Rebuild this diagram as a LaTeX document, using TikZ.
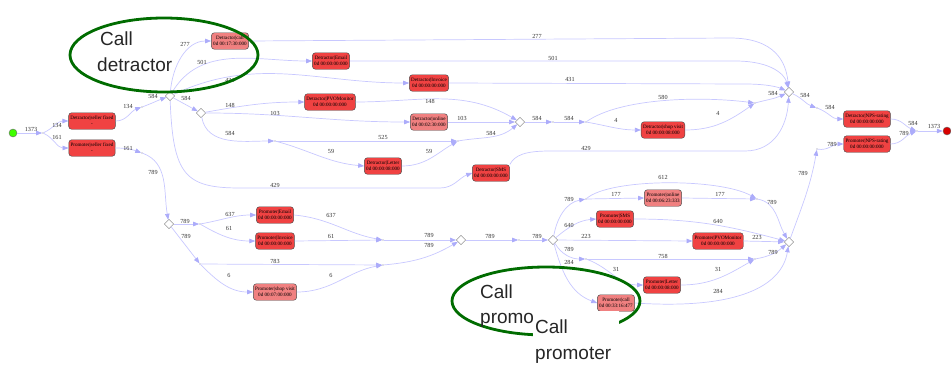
\documentclass[tikz,border=0pt]{standalone}
\usepackage{fontspec}
\setmainfont{Liberation Serif}
\setsansfont{Liberation Sans}
\usetikzlibrary{arrows.meta,shapes.geometric}
\definecolor{flowc}{RGB}{200,200,255}
\definecolor{tipc}{RGB}{172,172,250}
\definecolor{actred}{RGB}{240,66,66}
\definecolor{actlight}{RGB}{240,128,128}
\definecolor{ringgreen}{RGB}{0,108,0}
\begin{document}
\begin{tikzpicture}[x=1pt,y=-1pt,
  act/.style={draw=black!70, fill=actred, rounded corners=3pt, align=center,
    font=\fontsize{5.1}{5.6}\selectfont, inner xsep=1.8pt, inner ysep=1pt,
    minimum height=16.5pt, line width=0.45pt},
  actl/.style={act, fill=actlight},
  gate/.style={diamond, draw=black!55, fill=white, inner sep=0pt, minimum size=9.5pt, line width=0.45pt},
  pt/.style={circle, fill=flowc!60!black, inner sep=0pt, minimum size=1.2pt},
  flow/.style={draw=flowc, line width=0.7pt, -{Triangle[length=6pt,width=4.5pt,color=tipc]}},
  lbl/.style={font=\fontsize{6.2}{6.2}\selectfont, text=black!80, inner sep=0pt},
  big/.style={font=\sffamily\fontsize{19}{19}\selectfont, text=black!85, anchor=base west, inner sep=0pt},
  ring/.style={draw=ringgreen, line width=2.8pt}]
\useasboundingbox (0,0) rectangle (951,367);

% start and end events
\node[circle, draw=black!60, fill=green!75!yellow, minimum size=8pt, inner sep=0pt] (start) at (13,133) {};
\node[circle, draw=black!60, fill=red!85!black, minimum size=8pt, inner sep=0pt] (end) at (947,131) {};

% detractor branch
\node[act] (dsf) at (92,121) {Detractor|seller fixed\\-};
\node[act] (psf) at (92,148) {Promoter|seller fixed\\-};
\node[actl] (dcall) at (230,41) {Detractor|call\\0d 00:17:30:000};
\node[act] (demail) at (331,61) {Detractor|Email\\0d 00:00:00:000};
\node[act] (dinv) at (429,83) {Detractor|Invoice\\0d 00:00:00:000};
\node[act] (dpvo) at (330,102) {Detractor|PVOMonitor\\0d 00:00:00:000};
\node[actl] (donl) at (429,122) {Detractor|online\\0d 00:02:30:000};
\node[act] (dlet) at (383,166) {Detractor|Letter\\0d 00:00:08:000};
\node[act] (dsms) at (491,173) {Detractor|SMS\\0d 00:00:00:000};
\node[act] (dshop) at (663,130) {Detractor|shop visit\\0d 00:00:08:000};
\node[act] (dnps) at (867,119) {Detractor|NPS-rating\\0d 00:00:00:000};
\node[act] (pnps) at (867,144) {Promoter|NPS-rating\\0d 00:00:00:000};

% promoter branch
\node[act] (pemail) at (275,215) {Promoter|Email\\0d 00:00:00:000};
\node[act] (pinv) at (275,241) {Promoter|Invoice\\0d 00:00:00:000};
\node[actl] (pshop) at (275,292) {Promoter|shop visit\\0d 00:07:00:000};
\node[actl] (ponl) at (663,198) {Promoter|online\\0d 00:06:23:333};
\node[act] (psms) at (615,219) {Promoter|SMS\\0d 00:00:00:000};
\node[act] (ppvo) at (718,241) {Promoter|PVOMonitor\\0d 00:00:00:000};
\node[act] (plet) at (662,285) {Promoter|Letter\\0d 00:00:08:000};
\node[actl] (pcall) at (616,303) {Promoter|call\\0d 00:33:16:477};

% gateways
\node[gate] (g1) at (170,96) {};
\node[gate] (g2) at (169,224) {};
\node[gate] (g3) at (201,113) {};
\node[gate] (g4) at (520,122) {};
\node[gate] (g5) at (789,92) {};
\node[gate] (g6) at (461,240) {};
\node[gate] (g7) at (553,240) {};
\node[gate] (g8) at (789,242) {};

% join points
\node[pt] (p0) at (43,133) {};
\node[pt] (p1) at (142,107) {};
\node[pt] (p2) at (142,153) {};
\node[pt] (p3) at (275,141) {};
\node[pt] (p4) at (458,141) {};
\node[pt] (p5) at (553,122) {};
\node[pt] (p6) at (586,122) {};
\node[pt] (p7) at (755,103) {};
\node[pt] (p8) at (817,108) {};
\node[pt] (p9) at (817,149) {};
\node[pt] (p10) at (917,131) {};
\node[pt] (p11) at (200,224) {};
\node[pt] (p12) at (200,264) {};
\node[pt] (p13) at (383,240) {};
\node[pt] (p14) at (383,265) {};
\node[pt] (p15) at (519,240) {};
\node[pt] (p16) at (586,199) {};
\node[pt] (p17) at (757,199) {};
\node[pt] (p18) at (586,259) {};
\node[pt] (p19) at (755,259) {};

% flows, upper part
\draw[flow] (start) -- (p0);
\draw[flow] (p0) to[out=25,in=180] (dsf.west);
\draw[flow] (p0) to[out=-25,in=180] (psf.west);
\draw[flow] (dsf.east) to[out=0,in=200] (p1);
\draw[flow] (p1) to[out=20,in=200] (g1);
\draw[flow] (g1) to[out=85,in=180] (dcall.west);
\draw[flow] (g1) to[out=60,in=180] (demail.west);
\draw[flow] (g1) to[out=25,in=180] (dinv.west);
\draw[flow] (g1) -- (g3);
\draw[flow] (g1) .. controls (173,175) and (185,188) .. (240,188) -- (440,188) to[out=0,in=200] (dsms.west);
\draw[flow] (g3) to[out=10,in=180] (dpvo.west);
\draw[flow] (g3) to[out=0,in=180] (donl.west);
\draw[flow] (g3) to[out=-80,in=180] (p3);
\draw[flow] (p3) -- (p4);
\draw[flow] (p3) to[out=-15,in=175] (dlet.west);
\draw[flow] (dlet.east) to[out=0,in=210] (p4);
\draw[flow] (p4) to[out=10,in=220] (g4);
\draw[flow] (dpvo.east) to[out=0,in=150] (g4);
\draw[flow] (donl.east) -- (g4);
\draw[flow] (g4) -- (p5);
\draw[flow] (p5) -- (p6);
\draw[flow] (p6) .. controls (620,98) and (700,96) .. (p7);
\draw[flow] (p6) to[out=-10,in=180] (dshop.west);
\draw[flow] (dshop.east) to[out=0,in=215] (p7);
\draw[flow] (p7) to[out=15,in=205] (g5);
\draw[flow] (dcall.east) -- (730,38) .. controls (775,38) and (786,62) .. (g5);
\draw[flow] (demail.east) -- (735,61) .. controls (772,61) and (785,75) .. (g5);
\draw[flow] (dinv.east) -- (745,84) .. controls (770,84) and (780,88) .. (g5);
\draw[flow] (dsms.north east) .. controls (515,155) and (525,151) .. (550,151) -- (745,151) .. controls (775,151) and (787,125) .. (g5);
\draw[flow] (g5) to[out=-25,in=160] (p8);
\draw[flow] (p8) to[out=-20,in=180] (dnps.west);
\draw[flow] (dnps.east) to[out=0,in=160] (p10);
\draw[flow] (pnps.east) to[out=0,in=200] (p10);
\draw[flow] (p10) -- (end);
\draw[flow] (p9) to[out=-10,in=180] (pnps.west);
\draw[flow] (g8) to[out=70,in=-100] (p9);

% flows, lower part
\draw[flow] (psf.east) to[out=0,in=160] (p2);
\draw[flow] (p2) to[out=-20,in=100] (g2);
\draw[flow] (g2) -- (p11);
\draw[flow] (g2) -- (p12);
\draw[flow] (p11) to[out=10,in=180] (pemail.west);
\draw[flow] (p11) to[out=-30,in=180] (pinv.west);
\draw[flow] (pemail.east) to[out=-5,in=170] (p13);
\draw[flow] (pinv.east) -- (p13);
\draw[flow] (p13) -- (g6);
\draw[flow] (p12) -- (p14);
\draw[flow] (p12) to[out=-45,in=180] (pshop.west);
\draw[flow] (pshop.east) to[out=0,in=190] (p14);
\draw[flow] (p14) to[out=5,in=210] (g6);
\draw[flow] (g6) -- (p15);
\draw[flow] (p15) -- (g7);
\draw[flow] (g7) to[out=80,in=190] (p16);
\draw[flow] (g7) to[out=40,in=185] (psms.west);
\draw[flow] (g7) -- (ppvo.west);
\draw[flow] (g7) to[out=-60,in=180] (p18);
\draw[flow] (g7) to[out=-75,in=160] (pcall.west);
\draw[flow] (p16) .. controls (610,178) and (720,178) .. (p17);
\draw[flow] (p16) -- (ponl.west);
\draw[flow] (ponl.east) -- (p17);
\draw[flow] (p17) to[out=-10,in=120] (g8);
\draw[flow] (psms.east) to[out=0,in=165] (g8);
\draw[flow] (ppvo.east) -- (g8);
\draw[flow] (p18) -- (p19);
\draw[flow] (p18) to[out=-20,in=180] (plet.west);
\draw[flow] (plet.east) to[out=0,in=210] (p19);
\draw[flow] (p19) to[out=10,in=220] (g8);
\draw[flow] (pcall.east) .. controls (740,310) and (782,285) .. (g8);

% frequency labels
\foreach \lx/\ly/\lt [count=\i] in {
  31/129/1373, 57/125/134, 57/137/161, 128/106/134, 153/96/584, 128/148/161,
  153/172/789, 185/44/277, 202/62/501, 230/80/431, 186/98/584, 230/105/148,
  275/113/103, 230/133/584, 275/185/429, 383/137/525, 331/151/59, 429/151/59,
  491/133/584, 430/101/148, 462/118/103, 537/118/584, 569/118/584, 663/97/580,
  616/120/4, 718/113/4, 773/93/584, 537/36/277, 553/58/501, 570/79/431,
  586/148/429, 805/95/584, 830/107/584, 913/123/584, 904/133/789, 934/126/1373,
  832/144/789, 803/173/789,
  185/221/789, 186/236/789, 230/214/637, 229/228/61, 331/215/637, 331/236/61,
  429/235/789, 275/261/783, 229/275/6, 331/275/6, 429/245/789, 490/236/789,
  537/236/789, 569/199/789, 569/225/640, 586/236/223, 569/249/789, 569/262/284,
  663/177/612, 616/194/177, 720/194/177, 772/202/789, 718/221/640, 757/237/223,
  663/256/758, 616/269/31, 718/269/31, 773/252/789, 718/291/284}
  {\node[lbl] (lab\i) at (\lx,\ly) {\lt};}

% highlighted call activities
\draw[ring] (164,55) ellipse [x radius=94, y radius=37];
\node[big] (calld1) at (100,45) {Call};
\node[big] (calld2) at (97,71) {detractor};

\draw[ring] (546,301) ellipse [x radius=94, y radius=34];
\node[big] (callp1) at (480,298) {Call};
\begin{scope}
  \clip (470,300) rectangle (533,330);
  \node[big] (callp2) at (480,323) {promoter};
\end{scope}
\fill[white] (533,311) rectangle (619,367);
\node[big] (callp3) at (535,333) {Call};
\node[big] (callp4) at (535,359) {promoter};
\end{tikzpicture}
\end{document}
